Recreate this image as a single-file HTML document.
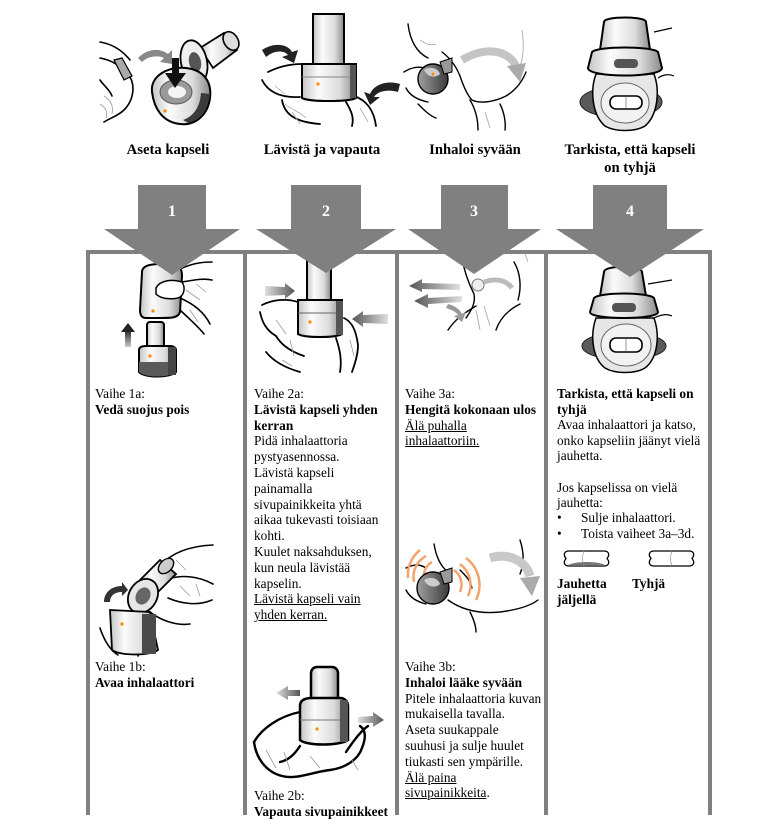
<!DOCTYPE html>
<html><head><meta charset="utf-8">
<style>
html,body{margin:0;padding:0;background:#fff;}
body{width:774px;height:836px;position:relative;overflow:hidden;font-family:"Liberation Serif","DejaVu Serif",serif;color:#000;}
svg{position:absolute;left:0;top:0;}
.h{position:absolute;font-weight:bold;font-size:14.67px;line-height:17.5px;text-align:center;white-space:nowrap;}
.t{position:absolute;font-size:13.33px;line-height:15.8px;white-space:nowrap;}
.t b{font-weight:bold;}
.t u{text-decoration:underline;}
</style></head><body>
<svg width="774" height="836" viewBox="0 0 774 836" xmlns="http://www.w3.org/2000/svg">
<defs>
<linearGradient id="g1" x1="0" x2="1" y1="0" y2="0">
<stop offset="0" stop-color="#c4c4c4"/><stop offset="0.3" stop-color="#fbfbfb"/><stop offset="0.7" stop-color="#dcdcdc"/><stop offset="1" stop-color="#8a8a8a"/></linearGradient>
<linearGradient id="gd" x1="0" x2="1"><stop offset="0" stop-color="#a0a0a0"/><stop offset="1" stop-color="#3a3a3a"/></linearGradient>
<linearGradient id="gaR" x1="0" x2="1"><stop offset="0" stop-color="#e0e0e0"/><stop offset="1" stop-color="#555"/></linearGradient>
<linearGradient id="gaL" x1="1" x2="0"><stop offset="0" stop-color="#e0e0e0"/><stop offset="1" stop-color="#555"/></linearGradient>
<linearGradient id="gv" x1="0" x2="0" y1="1" y2="0"><stop offset="0" stop-color="#ccc"/><stop offset="1" stop-color="#222"/></linearGradient>
</defs>

<!-- ===== TOP 1 ===== -->
<g fill="none" stroke="#000" stroke-width="1.6" stroke-linecap="round">
<path d="M100,42 C112,44 122,50 130,60"/>
<path d="M100,58 C110,60 118,64 122,70"/>
<path d="M128,74 C136,84 134,100 124,110 C118,116 110,118 104,122"/>
<path d="M100,80 C104,86 110,90 112,96"/>
</g>
<g fill="none" stroke="#999" stroke-width="0.8"><path d="M104,96 C110,100 114,106 112,114"/><path d="M100,104 C106,108 108,112 106,118"/></g>
<path d="M114,60 L122,58 L132,76 L124,80 Z" fill="#aaa" stroke="#000" stroke-width="1.2"/>
<path d="M138,58 C148,48 160,48 168,54 L172,50 L172,64 L160,62 L164,58 C158,55 148,56 142,62 Z" fill="#888"/>
<polygon points="200,48 224,33 237,50 213,68" fill="url(#g1)" stroke="#000" stroke-width="1.8"/>
<ellipse cx="231" cy="41" rx="7" ry="10" transform="rotate(-32 231 41)" fill="#ddd" stroke="#000" stroke-width="1.6"/>
<ellipse cx="194" cy="62" rx="13" ry="22" transform="rotate(-12 194 62)" fill="#eee" stroke="#000" stroke-width="1.8"/>
<ellipse cx="195" cy="62" rx="6" ry="10" transform="rotate(-12 195 62)" fill="#555"/>
<path d="M152,92 C150,76 168,66 186,68 C204,70 212,82 210,98 C208,114 196,126 180,124 C162,122 154,108 152,92 Z" fill="url(#g1)" stroke="#000" stroke-width="2"/>
<path d="M188,123 C200,120 208,110 210,94 L201,93 C200,107 194,116 183,120 Z" fill="#3a3a3a"/>
<ellipse cx="176" cy="92" rx="16" ry="12" fill="#9a9a9a" stroke="#555"/>
<ellipse cx="177" cy="92" rx="9" ry="6" fill="#f4f4f4"/>
<rect x="172" y="58" width="7" height="17" fill="#111"/>
<polygon points="165,73 186,73 175,88" fill="#111"/>
<circle cx="165" cy="111" r="1.6" fill="#f80"/>

<!-- ===== TOP 2 ===== -->
<g fill="none" stroke="#000" stroke-width="1.8" stroke-linecap="round">
<path d="M268,72 C280,66 292,64 302,64"/>
<path d="M262,80 C268,92 280,98 300,97"/>
<path d="M282,100 C284,112 292,122 320,124"/>
<path d="M354,96 C366,100 374,110 376,126"/>
<path d="M346,102 C352,112 354,118 352,126"/>
</g>
<g fill="none" stroke="#aaa" stroke-width="0.8"><path d="M285,104 C292,110 300,112 306,118"/><path d="M292,112 L300,124"/><path d="M360,108 L368,122"/><path d="M275,86 L285,94"/></g>
<rect x="313" y="14" width="31" height="52" fill="url(#g1)" stroke="#000" stroke-width="2"/>
<path d="M302,64 L356,64 L356,98 C350,102 308,102 302,98 Z" fill="url(#g1)" stroke="#000" stroke-width="2"/>
<line x1="302" y1="77" x2="356" y2="77" stroke="#888"/>
<rect x="350" y="65" width="6" height="33" fill="#555"/>
<circle cx="318" cy="84" r="1.6" fill="#f80"/>
<path d="M262,50 C274,42 288,44 292,52 L298,50 L294,63 L282,57 L288,55 C284,50 274,50 266,57 Z" fill="#222"/>
<path d="M400,84 C388,80 374,84 370,94 L364,92 L370,105 L380,97 L374,97 C378,91 388,89 398,92 Z" fill="#222"/>

<!-- ===== TOP 3 ===== -->
<g fill="none" stroke="#000" stroke-width="1.4" stroke-linecap="round">
<path d="M408,24 C410,40 416,52 428,58"/>
<path d="M404,72 C410,68 418,66 424,68"/>
<path d="M406,88 C410,96 418,100 428,102"/>
<path d="M418,104 C424,110 430,116 436,118"/>
<path d="M442,52 C450,58 456,66 460,76 C464,88 468,96 472,100 C480,104 494,102 506,96 C516,90 522,82 526,72"/>
<path d="M470,100 C476,110 478,120 478,130"/>
<path d="M500,104 C504,112 506,122 505,130"/>
</g>
<g fill="none" stroke="#aaa" stroke-width="0.9"><path d="M522,30 C524,44 524,56 520,66"/><path d="M485,112 L490,128"/><path d="M420,40 C426,44 430,46 436,44"/></g>
<path d="M462,60 C486,46 508,50 516,66" fill="none" stroke="#c4c4c4" stroke-width="8"/>
<polygon points="507,66 526,63 520,82" fill="#aaa"/>
<circle cx="433" cy="79" r="15" fill="url(#gd)" stroke="#000" stroke-width="1.4"/>
<path d="M424,70 C430,66 438,68 440,74 C436,78 428,78 424,70 Z" fill="#ccc"/>
<path d="M440,62 L452,58 L452,72 L444,74 Z" fill="#999" stroke="#000" stroke-width="1"/>
<circle cx="433" cy="74" r="1.5" fill="#f80"/>

<!-- ===== TOP 4 ===== -->
<path d="M604,22 C604,16 646,16 646,22 L650,50 L600,50 Z" fill="url(#g1)" stroke="#000" stroke-width="2"/>
<path d="M654,32 L672,28" stroke="#000" stroke-width="1.2"/>
<ellipse cx="621" cy="102" rx="41" ry="16" fill="#5a5a5a" stroke="#222"/>
<path d="M596,74 C590,90 592,115 605,126 C615,132 635,132 645,126 C658,115 660,90 654,74 Z" fill="#e6e6e6" stroke="#000" stroke-width="1.5"/>
<ellipse cx="625" cy="103" rx="24" ry="20" fill="#f2f2f2" stroke="#666"/>
<path d="M592,52 C598,46 652,46 658,52 L662,68 C662,78 588,78 588,68 Z" fill="url(#g1)" stroke="#000" stroke-width="2"/>
<rect x="614" y="59" width="24" height="9" rx="4" fill="#555"/>
<rect x="610" y="96" width="32" height="13" rx="6" fill="#fff" stroke="#000" stroke-width="1.6"/>
<line x1="626" y1="97" x2="626" y2="108" stroke="#999"/>
<path d="M658,78 C664,74 670,74 674,76" fill="none" stroke="#000" stroke-width="1.2"/>

<!-- ===== COL 1a ===== -->
<g fill="none" stroke="#000" stroke-width="1.6" stroke-linecap="round">
<path d="M178,270 C190,264 200,262 212,262"/>
<path d="M182,282 C194,280 204,278 212,280"/>
<path d="M180,298 C194,304 204,312 210,324"/>
<path d="M176,306 C188,318 198,326 204,334"/>
</g>
<g fill="none" stroke="#999" stroke-width="0.8"><path d="M186,290 L200,300"/><path d="M190,310 L198,322"/><path d="M196,284 L206,292"/></g>
<path d="M142,272 C142,266 150,264 160,264 L176,266 C180,266 182,270 182,276 L180,312 C178,318 172,318 160,318 L146,318 C141,318 140,314 140,310 Z" fill="url(#g1)" stroke="#000" stroke-width="2"/>
<path d="M156,288 C160,280 172,279 182,282 C186,288 184,296 178,298 C168,300 160,298 156,294 Z" fill="#fff" stroke="#000" stroke-width="1.5"/>
<circle cx="153" cy="311" r="1.6" fill="#f80"/>
<rect x="125" y="330" width="6" height="17" fill="url(#gv)"/>
<polygon points="121,332 135,332 128,323" fill="#222"/>
<rect x="147" y="322" width="17" height="28" rx="3" fill="url(#g1)" stroke="#000" stroke-width="2"/>
<path d="M139,350 C139,347 142,346 146,346 L170,346 C174,346 176,348 176,350 L176,372 C170,378 144,378 139,372 Z" fill="url(#g1)" stroke="#000" stroke-width="2"/>
<path d="M139,362 L176,362 L176,372 C170,378 144,378 139,372 Z" fill="#5a5a5a"/>
<rect x="168" y="347" width="8" height="28" fill="#444"/>
<circle cx="150" cy="356" r="1.6" fill="#f80"/>

<!-- ===== COL 1b ===== -->
<g fill="none" stroke="#000" stroke-width="1.6" stroke-linecap="round">
<path d="M160,566 C172,552 190,546 213,545"/>
<path d="M166,580 C180,574 198,576 213,584"/>
<path d="M168,598 C182,604 198,606 212,600"/>
<path d="M150,612 C160,620 176,626 190,624"/>
<path d="M100,628 C104,640 110,650 118,655"/>
<path d="M132,640 C136,646 140,652 138,656"/>
</g>
<g fill="none" stroke="#999" stroke-width="0.8"><path d="M180,586 L190,596"/><path d="M196,584 L200,596"/><path d="M176,560 L186,570"/></g>
<polygon points="140,580 160,560 176,574 156,594" fill="url(#g1)" stroke="#000" stroke-width="1.8"/>
<ellipse cx="166" cy="566" rx="6" ry="9" transform="rotate(45 166 566)" fill="#ccc" stroke="#000" stroke-width="1.4"/>
<ellipse cx="143" cy="596" rx="14" ry="18" transform="rotate(30 143 596)" fill="#e6e6e6" stroke="#000" stroke-width="1.8"/>
<ellipse cx="143" cy="596" rx="7" ry="9" transform="rotate(30 143 596)" fill="#666"/>
<path d="M110,610 L150,612 L158,650 C150,656 120,656 112,650 Z" fill="url(#g1)" stroke="#000" stroke-width="1.8"/>
<rect x="142" y="614" width="14" height="40" fill="#4a4a4a"/>
<circle cx="122" cy="624" r="1.6" fill="#f80"/>
<path d="M104,602 C104,592 112,586 122,586 L122,582 L128,590 L122,596 L122,592 C114,592 110,596 110,602 Z" fill="#333"/>

<!-- ===== COL 2a ===== -->
<g fill="none" stroke="#000" stroke-width="1.8" stroke-linecap="round">
<path d="M262,305 C272,300 285,298 298,302"/>
<path d="M260,312 C262,322 266,330 276,336"/>
<path d="M276,336 C282,346 292,352 304,356"/>
<path d="M266,352 C274,362 286,368 300,372"/>
<path d="M344,318 C352,322 356,330 358,345 C358,356 354,366 352,372"/>
<path d="M336,338 C340,350 342,360 340,372"/>
</g>
<g fill="none" stroke="#999" stroke-width="0.8"><path d="M276,320 L286,334"/><path d="M290,340 L294,356"/><path d="M350,340 L354,356"/><path d="M282,360 L292,366"/></g>
<rect x="307" y="250" width="24" height="52" fill="url(#g1)" stroke="#000" stroke-width="2"/>
<path d="M298,300 L342,300 L342,334 C336,338 304,338 298,334 Z" fill="url(#g1)" stroke="#000" stroke-width="2"/>
<line x1="298" y1="313" x2="342" y2="313" stroke="#666"/>
<rect x="336" y="301" width="7" height="34" fill="#555"/>
<circle cx="310" cy="322" r="1.6" fill="#f80"/>
<path d="M265,286 L285,287 L285,283 L295,291 L285,299 L285,295 L265,296 Z" fill="url(#gaR)"/>
<path d="M388,314 L363,315 L363,311 L352,319 L363,327 L363,323 L388,324 Z" fill="url(#gaL)"/>

<!-- ===== COL 2b ===== -->
<g fill="none" stroke="#000" stroke-width="2.4" stroke-linecap="round">
<path d="M254,742 C262,728 280,716 300,712"/>
<path d="M254,742 C256,758 266,772 282,776 C296,780 312,772 330,770 C345,768 358,760 362,748 C366,738 366,730 360,726"/>
<path d="M300,746 C296,752 290,760 280,762"/>
<path d="M346,752 C354,740 362,730 368,726"/>
</g>
<g fill="none" stroke="#999" stroke-width="0.8"><path d="M266,750 L276,768"/><path d="M284,752 L290,770"/><path d="M352,760 L358,770"/><path d="M310,756 L320,768"/></g>
<rect x="311" y="667" width="27" height="48" rx="6" fill="url(#g1)" stroke="#000" stroke-width="2.5"/>
<path d="M300,706 C300,700 305,698 312,698 L340,698 C345,698 348,702 348,706 L348,740 C340,746 306,746 300,740 Z" fill="url(#g1)" stroke="#000" stroke-width="2.5"/>
<line x1="300" y1="720" x2="348" y2="720" stroke="#777"/>
<rect x="340" y="700" width="8" height="42" fill="#555"/>
<circle cx="317" cy="729" r="1.6" fill="#f80"/>
<path d="M300,690 L288,690 L288,686 L276,693 L288,700 L288,696 L300,696 Z" fill="url(#gaR)"/>
<path d="M358,717 L373,716 L373,712 L384,720 L373,727 L373,723 L358,723 Z" fill="url(#gaR)"/>

<!-- ===== COL 3a ===== -->
<g fill="none" stroke="#000" stroke-width="1.4" stroke-linecap="round">
<path d="M462,258 C464,270 468,282 474,294 C476,304 470,312 466,318"/>
<path d="M448,330 C456,318 466,312 476,306"/>
<path d="M496,330 C500,318 508,310 520,304"/>
<path d="M514,262 C520,272 522,286 518,300"/>
</g>
<g fill="none" stroke="#aaa" stroke-width="0.9"><path d="M476,310 L480,330"/><path d="M484,306 L490,326"/><path d="M525,254 L528,262"/></g>
<ellipse cx="478" cy="285" rx="6" ry="6" fill="#eee" stroke="#777"/>
<path d="M484,282 C496,278 506,280 512,288" fill="none" stroke="#bbb" stroke-width="5"/>
<path d="M460,284 L422,283 L422,279 L409,286 L422,292 L422,289 L460,290 Z" fill="url(#gaL)"/>
<path d="M462,296 L428,298 L428,294 L414,301 L428,308 L428,304 L462,302 Z" fill="url(#gaL)"/>
<path d="M448,304 C456,306 460,310 462,314 L466,312 L462,322 L454,316 L458,315 C456,312 452,310 446,308 Z" fill="#999"/>

<!-- ===== COL 3b ===== -->
<g fill="none" stroke="#000" stroke-width="1.4" stroke-linecap="round">
<path d="M434,544 C436,556 440,566 448,572"/>
<path d="M406,568 C414,564 420,564 426,568"/>
<path d="M406,590 C410,598 418,602 426,604"/>
<path d="M448,600 C462,610 480,614 500,612 C516,610 530,606 538,600"/>
<path d="M460,570 C466,576 470,580 472,588"/>
<path d="M470,612 C474,620 476,626 476,632"/>
<path d="M520,540 C524,552 524,564 520,574"/>
</g>
<g fill="none" stroke="#f2a46c" stroke-width="2.5">
<path d="M426,556 A24,24 0 0 0 414,582"/>
<path d="M420,550 A32,32 0 0 0 408,578"/>
<path d="M432,562 A16,16 0 0 0 424,578"/>
<path d="M454,570 A18,18 0 0 1 460,592"/>
<path d="M460,564 A26,26 0 0 1 468,596"/>
<path d="M466,558 A34,34 0 0 1 476,600"/>
</g>
<path d="M490,558 C510,552 526,562 530,576" fill="none" stroke="#c8c8c8" stroke-width="9"/>
<polygon points="520,578 540,576 532,596" fill="#aaa"/>
<circle cx="433" cy="588" r="16" fill="url(#gd)" stroke="#000" stroke-width="1.4"/>
<path d="M424,580 C430,576 438,578 440,584 C436,588 428,588 424,580 Z" fill="#ccc"/>
<path d="M440,572 L452,568 L452,582 L444,584 Z" fill="#999" stroke="#000" stroke-width="1"/>

<!-- ===== COL 4 ===== -->
<path d="M604,272 C604,265 642,265 642,272 L646,296 L600,296 Z" fill="url(#g1)" stroke="#000" stroke-width="2"/>
<path d="M648,284 L672,280" stroke="#000" stroke-width="1.2"/>
<ellipse cx="624" cy="346" rx="42" ry="14" fill="#5a5a5a" stroke="#222"/>
<path d="M596,318 C590,335 592,358 605,368 C615,374 635,374 645,368 C658,358 660,335 654,318 Z" fill="#e6e6e6" stroke="#000" stroke-width="1.5"/>
<ellipse cx="626" cy="345" rx="25" ry="21" fill="#f2f2f2" stroke="#666"/>
<path d="M594,298 C600,292 648,292 654,298 L658,312 C658,320 590,320 590,312 Z" fill="url(#g1)" stroke="#000" stroke-width="2"/>
<rect x="612" y="303" width="24" height="9" rx="4" fill="#555"/>
<rect x="610" y="338" width="32" height="14" rx="6" fill="#fff" stroke="#000" stroke-width="1.6"/>
<line x1="626" y1="339" x2="626" y2="351" stroke="#999"/>
<path d="M654,318 C662,314 668,314 672,316" fill="none" stroke="#000" stroke-width="1.2"/>

<!-- capsule icons -->
<path d="M569,551 L604,551 C609,551 610,555 607,558.5 C610,562 609,566 604,566 L569,566 C564,566 563,562 566,558.5 C563,555 564,551 569,551 Z" fill="#fff" stroke="#000" stroke-width="1.3"/>
<path d="M584,551 C582,556 582,561 584,566" fill="none" stroke="#aaa" stroke-width="0.8"/>
<path d="M568,565 C576,561 598,561 605,565 Z" fill="#777"/>
<path d="M654,551 L689,551 C694,551 695,555 692,558.5 C695,562 694,566 689,566 L654,566 C649,566 648,562 651,558.5 C648,555 649,551 654,551 Z" fill="#fff" stroke="#000" stroke-width="1.3"/>
<path d="M672,551 C670,556 670,561 672,566" fill="none" stroke="#999" stroke-width="0.8"/>

<!-- ===== TABLE LINES ===== -->
<g fill="#808080">
<rect x="86" y="250" width="626" height="4"/>
<rect x="86" y="250" width="4" height="565"/>
<rect x="243" y="250" width="4" height="565"/>
<rect x="395" y="250" width="4" height="565"/>
<rect x="544" y="250" width="4" height="565"/>
<rect x="708" y="250" width="4" height="565"/>
</g>

<!-- ===== BIG ARROWS ===== -->
<g fill="#808080">
<polygon points="138,185 206,185 206,229 240,229 172,275 104,229 138,229"/>
<polygon points="291,185 361,185 361,229 396,229 326,273 256,229 291,229"/>
<polygon points="441,185 508,185 508,229 541,229 474,274 408,229 441,229"/>
<polygon points="593,185 667,185 667,229 704,229 630,277 556,229 593,229"/>
</g>
<g fill="#fff" font-family="Liberation Serif, serif" font-weight="bold" font-size="16" text-anchor="middle">
<text x="172" y="216">1</text>
<text x="326" y="216">2</text>
<text x="474" y="216">3</text>
<text x="630" y="216">4</text>
</g>
</svg>

<div class="h" style="left:87px;top:142px;width:162px;">Aseta kapseli</div>
<div class="h" style="left:242px;top:142px;width:160px;">Lävistä ja vapauta</div>
<div class="h" style="left:395px;top:142px;width:160px;">Inhaloi syvään</div>
<div class="h" style="left:550px;top:142px;width:160px;">Tarkista, että kapseli<br>on tyhjä</div>

<div class="t" style="left:95px;top:386px;">Vaihe 1a:<br><b>Vedä suojus pois</b></div>
<div class="t" style="left:95px;top:659px;">Vaihe 1b:<br><b>Avaa inhalaattori</b></div>

<div class="t" style="left:254px;top:386px;">Vaihe 2a:<br><b>Lävistä kapseli yhden<br>kerran</b><br>Pidä inhalaattoria<br>pystyasennossa.<br>Lävistä kapseli<br>painamalla<br>sivupainikkeita yhtä<br>aikaa tukevasti toisiaan<br>kohti.<br>Kuulet naksahduksen,<br>kun neula lävistää<br>kapselin.<br><u>Lävistä kapseli vain</u><br><u>yhden kerran.</u></div>
<div class="t" style="left:254px;top:788px;">Vaihe 2b:<br><b>Vapauta sivupainikkeet</b></div>

<div class="t" style="left:405px;top:386px;">Vaihe 3a:<br><b>Hengitä kokonaan ulos</b><br><u>Älä puhalla</u><br><u>inhalaattoriin.</u></div>
<div class="t" style="left:405px;top:659px;">Vaihe 3b:<br><b>Inhaloi lääke syvään</b><br>Pitele inhalaattoria kuvan<br>mukaisella tavalla.<br>Aseta suukappale<br>suuhusi ja sulje huulet<br>tiukasti sen ympärille.<br><u>Älä paina</u><br><u>sivupainikkeita</u>.</div>

<div class="t" style="left:557px;top:386px;line-height:15.6px;"><b>Tarkista, että kapseli on<br>tyhjä</b><br>Avaa inhalaattori ja katso,<br>onko kapseliin jäänyt vielä<br>jauhetta.<br><br>Jos kapselissa on vielä<br>jauhetta:</div>
<div class="t" style="left:557px;top:510px;line-height:15.6px;">•<br>•</div>
<div class="t" style="left:581px;top:510px;line-height:15.6px;">Sulje inhalaattori.<br>Toista vaiheet 3a–3d.</div>
<div class="t" style="left:557px;top:576px;"><b>Jauhetta<br>jäljellä</b></div>
<div class="t" style="left:632px;top:576px;"><b>Tyhjä</b></div>
</body></html>
